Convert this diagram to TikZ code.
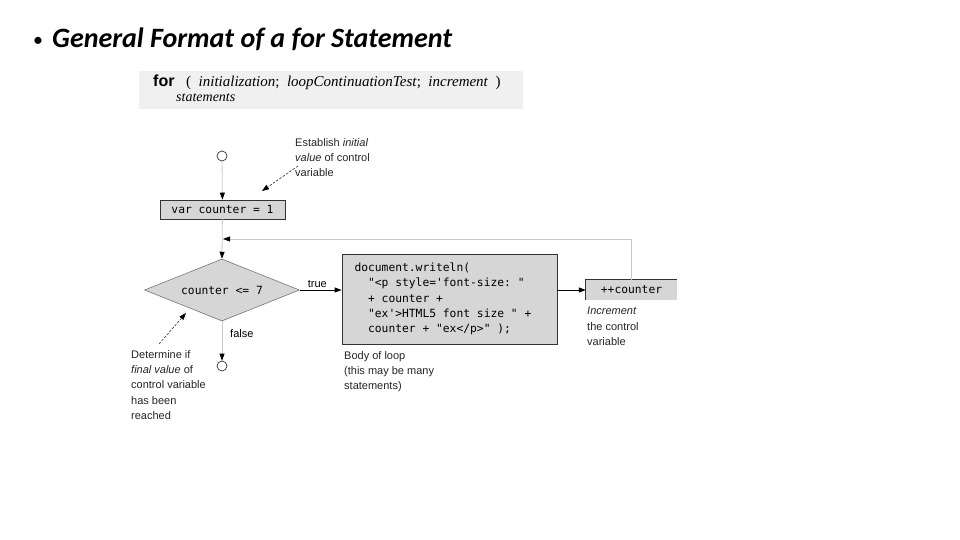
\documentclass[tikz,border=0pt]{standalone}
\usepackage{fontspec}
\setmainfont{Liberation Sans}
\setmonofont[WordSpace={1,0,0}]{DejaVu Sans Mono}
\newfontfamily\titlefont{Carlito}
\newfontfamily\serifface{Liberation Serif}
\usetikzlibrary{shapes.geometric,arrows.meta}
\definecolor{boxgray}{HTML}{D6D6D6}
\definecolor{topgray}{HTML}{F0F0F0}
\definecolor{faint}{HTML}{C8C8C8}
\definecolor{edgec}{HTML}{333333}
\begin{document}
\begin{tikzpicture}[x=1pt,y=-1pt,
  note/.style={font=\fontsize{11}{15.3}\selectfont, align=left, anchor=north west, inner sep=0, text=black!85},
  codebox/.style={draw=edgec, line width=0.8pt, fill=boxgray, font=\ttfamily\fontsize{11.3}{15.3}\selectfont, inner sep=0},
  tipa/.style={-{Triangle[length=7pt,width=5pt,black]}},
  arr/.style={tipa, draw=black, line width=0.8pt},
  flow/.style={tipa, draw=faint, line width=0.8pt},
  dasharr/.style={tipa, draw=black!80, dashed, dash pattern=on 2.5pt off 1.5pt, line width=0.6pt}
]
\useasboundingbox[fill=white] (0,0) rectangle (960,540);

% title
\node[anchor=base west, font=\titlefont\fontsize{20}{24}\selectfont, inner sep=0] (bullet) at (33,47) {•};
\node[anchor=base west, font=\titlefont\bfseries\itshape\fontsize{28}{32}\selectfont, inner sep=0] (title) at (52,48) {General Format of a for Statement};

% general format box
\node[fill=topgray, minimum width=384pt, minimum height=38pt, anchor=north west, inner sep=0] (forbox) at (139,71) {};
\node[anchor=base west, font=\bfseries\fontsize{16}{18}\selectfont, inner sep=0] (forkw) at (153,87) {for};
\node[anchor=base west, font=\serifface\fontsize{15}{17}\selectfont, inner sep=0] (forhead) at (186,87) {(\ \ \textit{initialization};\ \ \textit{loopContinuationTest};\ \ \textit{increment}\ \ )};
\node[anchor=base west, font=\serifface\itshape\fontsize{14}{16}\selectfont, inner sep=0] (stmts) at (176,102) {statements};

% flowchart nodes
\node[circle, draw=edgec, line width=0.7pt, minimum size=10pt, inner sep=0] (start) at (222,156) {};
\node[codebox, minimum width=125pt, minimum height=19pt] (init) at (222.5,209.5) {var counter = 1};
\node[codebox, diamond, aspect=2.5, minimum width=155pt, minimum height=62pt, line width=0.5pt, draw=black!60] (cond) at (222,290) {counter <= 7};
\node[codebox, minimum width=215pt, minimum height=90pt, align=left, text width=190pt] (body) at (449.5,299) {\spaceskip=0pt\xspaceskip=0pt\relax document.writeln(\\
\ \ "<p style='font-size: "\\
\ \ + counter +\\
\ \ "ex'>HTML5 font size " +\\
\ \ counter + "ex</p>" );};
\node[fill=boxgray, minimum width=91pt, minimum height=20pt, inner sep=0, font=\ttfamily\fontsize{11.3}{14}\selectfont] (incr) at (631.5,290) {++counter};
\draw[edgec, line width=0.8pt] (incr.south west) -- (incr.north west) -- (incr.north east);
\node[circle, draw=edgec, line width=0.7pt, minimum size=10pt, inner sep=0] (stop) at (222,366) {};

% annotations
\node[note] (establish) at (295,138) {Establish \textit{initial}\\\textit{value} of control\\variable};
\node[note] (determine) at (131,350) {Determine if\\\textit{final value} of\\control variable\\has been\\reached};
\node[note] (bodynote) at (344,351) {Body of loop\\(this may be many\\statements)};
\node[note] (incrnote) at (587,307) {\textit{Increment}\\the control\\variable};

% connectors
\draw[flow] (start) -- (init);
\draw[flow] (init) -- (cond.north);
\draw[arr] (cond.east) -- node[above, pos=0.42, font=\fontsize{11}{13}\selectfont, inner sep=2pt] (truelbl) {true} (cond.east -| body.west);
\draw[arr] (incr.west -| body.east) -- (incr.west);
\coordinate (loopcorner) at (631.5,239);
\coordinate (loopend) at (223,239);
\draw[flow] (incr.north) -- (loopcorner) -- (loopend);
\draw[flow] (cond.south) -- (stop);
\node[anchor=base west, font=\fontsize{11}{13}\selectfont, inner sep=0] (falselbl) at (230,337) {false};

\coordinate (d1s) at (298,166);
\coordinate (d1e) at (262,191);
\draw[dasharr] (d1s) -- (d1e);
\coordinate (d2s) at (159,344);
\coordinate (d2e) at (186,313);
\draw[dasharr] (d2s) -- (d2e);
\end{tikzpicture}
\end{document}
